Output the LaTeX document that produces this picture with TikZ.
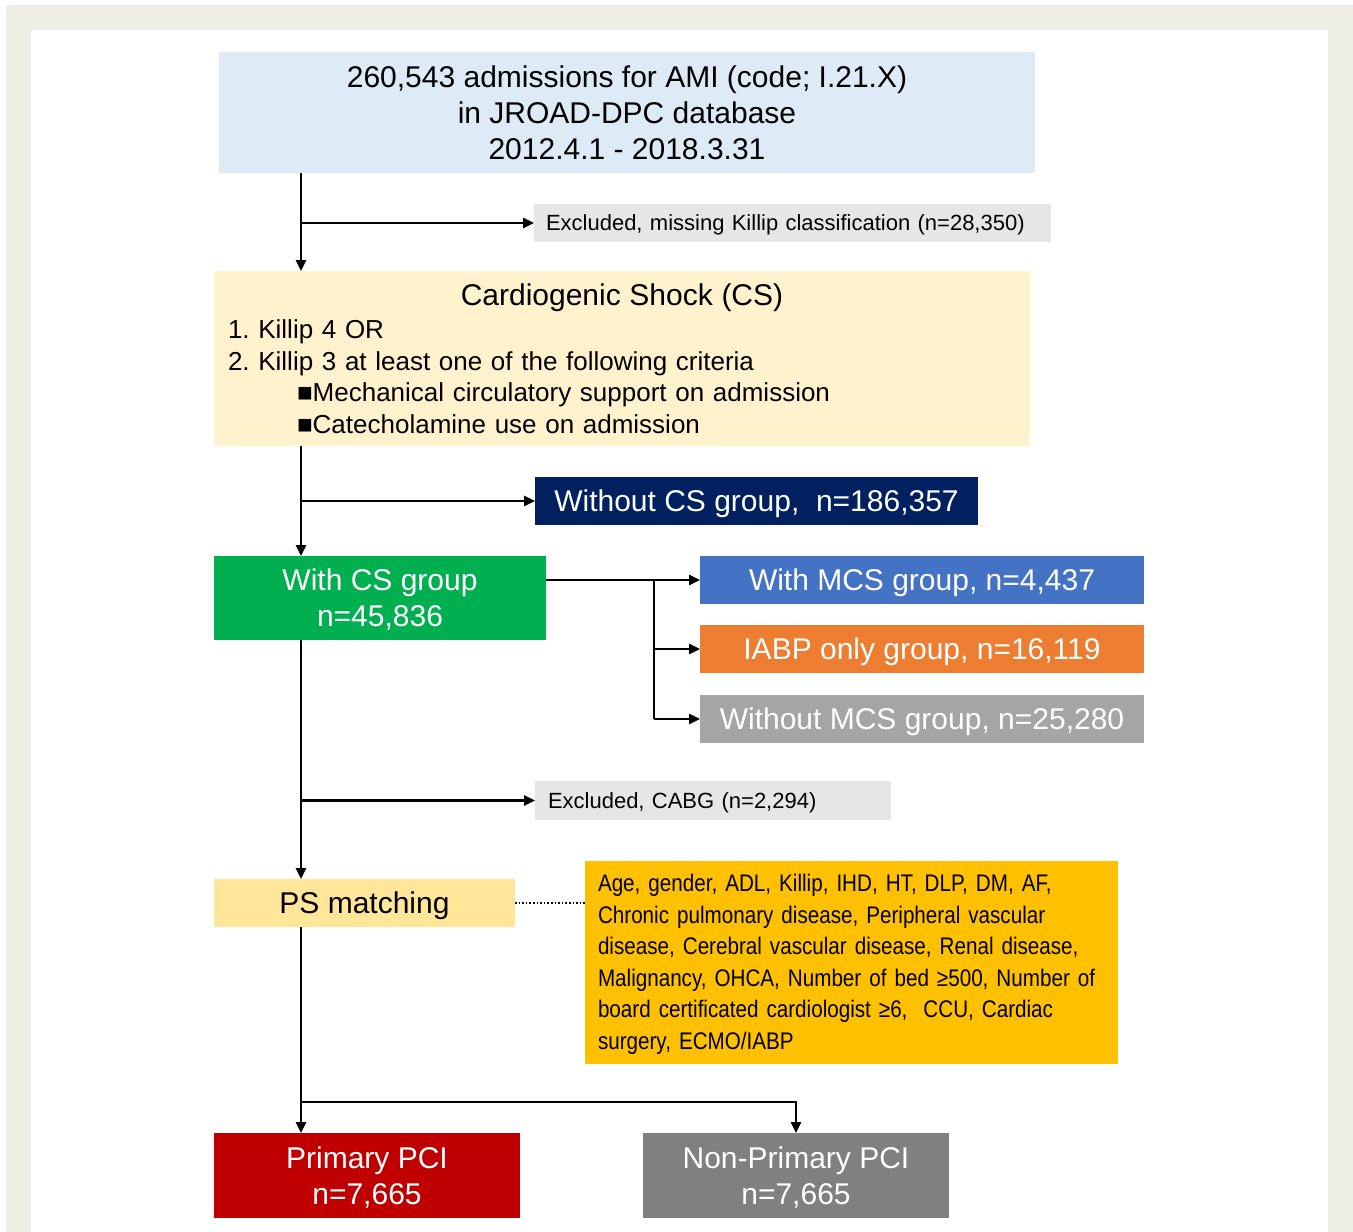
\documentclass[tikz,border=0pt]{standalone}
\usepackage{fontspec}
\setmainfont{Liberation Sans}
\newfontfamily\narrowfont[FakeStretch=0.86]{Liberation Sans}
\usetikzlibrary{arrows.meta}
\definecolor{framebg}{HTML}{EFEEE4}
\definecolor{topblue}{HTML}{DEEBF7}
\definecolor{exgray}{HTML}{E7E6E6}
\definecolor{cream}{HTML}{FFF2CC}
\definecolor{navy}{HTML}{002060}
\definecolor{csgreen}{HTML}{00B050}
\definecolor{mcsblue}{HTML}{4472C4}
\definecolor{iaorange}{HTML}{ED7D31}
\definecolor{wogray}{HTML}{A5A5A5}
\definecolor{pslight}{HTML}{FFE699}
\definecolor{covgold}{HTML}{FFC000}
\definecolor{pcired}{HTML}{C00000}
\definecolor{npgray}{HTML}{808080}
\tikzset{
  box/.style={inner sep=0pt, outer sep=0pt, align=center},
  flat/.style={text depth=0pt},
  big/.style={font=\fontsize{30}{36}\selectfont},
  small/.style={font=\fontsize{22}{26}\selectfont},
  arr/.style={line width=2.5pt, -{Triangle[length=11pt,width=10pt]}},
  ln/.style={line width=2.5pt},
}
\begin{document}
\frenchspacing
\begin{tikzpicture}[x=1pt,y=-1pt]
\useasboundingbox (0,0) rectangle (1353,1232);
\fill[white] (0,0) rectangle (1353,1232);
\fill[framebg] (6,5) rectangle (1353,1232);
\fill[white] (31,30) rectangle (1328,1232);

\node[box, flat, big, fill=topblue, minimum width=816, minimum height=121] (top) at (627,112.5)
  {260,543 admissions for AMI (code; I.21.X)\\in JROAD-DPC database\\2012.4.1 - 2018.3.31};
\node[box, flat, small, fill=exgray, minimum width=517, minimum height=38, text width=493, align=left] (excl1) at (792.5,223)
  {Excluded, missing Killip classification (n=28,350)};
\node[box, fill=cream, minimum width=816, minimum height=175, text width=788, align=left,
  font=\fontsize{26}{31.5}\selectfont\frenchspacing] (cs) at (622,358.5)
  {\makebox[788pt]{\fontsize{30}{33}\selectfont Cardiogenic Shock (CS)}\\[2pt]
   1. Killip 4 OR\\
   2. Killip 3 at least one of the following criteria\\
   \hspace*{69pt}■Mechanical circulatory support on admission\\
   \hspace*{69pt}■Catecholamine use on admission};
\node[box, flat, big, text=white, fill=navy, minimum width=443, minimum height=48] (nocs) at (756.5,501)
  {Without CS group,\ \ n=186,357};
\node[box, flat, big, text=white, fill=csgreen, minimum width=332, minimum height=84] (withcs) at (380,598)
  {With CS group\\n=45,836};
\node[box, flat, big, text=white, fill=mcsblue, minimum width=444, minimum height=48] (mcs) at (922,580)
  {With MCS group, n=4,437};
\node[box, flat, big, text=white, fill=iaorange, minimum width=444, minimum height=48] (iabp) at (922,649)
  {IABP only group, n=16,119};
\node[box, flat, big, text=white, fill=wogray, minimum width=444, minimum height=48] (wo) at (922,719)
  {Without MCS group, n=25,280};
\node[box, flat, small, fill=exgray, minimum width=356, minimum height=39, text width=330, align=left] (cabg) at (713,800.5)
  {Excluded, CABG (n=2,294)};
\node[box, flat, big, fill=pslight, minimum width=301, minimum height=48] (ps) at (364.5,903)
  {PS matching};
\node[box, fill=covgold, minimum width=533, minimum height=203, text width=507, align=left,
  font=\narrowfont\fontsize{24}{31.5}\selectfont\frenchspacing] (cov) at (851.5,962.5)
  {\rule{0pt}{21pt}Age, gender, ADL, Killip, IHD, HT, DLP, DM, AF,\\
   Chronic pulmonary disease, Peripheral vascular\\
   disease, Cerebral vascular disease, Renal disease,\\
   Malignancy, OHCA, Number of bed ≥500, Number of\\
   board certificated cardiologist ≥6,\ \ CCU, Cardiac\\
   surgery, ECMO/IABP};
\node[box, flat, big, text=white, fill=pcired, minimum width=306, minimum height=85] (ppci) at (367,1175.5)
  {Primary PCI\\n=7,665};
\node[box, flat, big, text=white, fill=npgray, minimum width=306, minimum height=85] (nppci) at (796,1175.5)
  {Non-Primary PCI\\n=7,665};

\coordinate (m) at (301,0);
\coordinate (v) at (654,0);
\coordinate (split) at (301,1102);

\draw[arr] (top.south -| m) -- (cs.north -| m);
\draw[arr] (excl1.west -| m) -- (excl1.west);
\draw[arr] (cs.south -| m) -- (withcs.north -| m);
\draw[arr] (nocs.west -| m) -- (nocs.west);
\draw[arr] (withcs.east |- mcs.west) -- (mcs.west);
\draw[ln] (mcs.west -| v) -- (wo.west -| v);
\draw[arr] (iabp.west -| v) -- (iabp.west);
\draw[arr] (wo.west -| v) -- (wo.west);
\draw[arr] (withcs.south -| m) -- (ps.north -| m);
\draw[arr] (cabg.west -| m) -- (cabg.west);
\draw[line width=1.6pt, dotted] (ps.east) -- (cov.west |- ps.east);
\draw[arr] (ps.south -| m) -- (ppci.north -| m);
\draw[arr] (split) -| (nppci.north);
\end{tikzpicture}
\end{document}
